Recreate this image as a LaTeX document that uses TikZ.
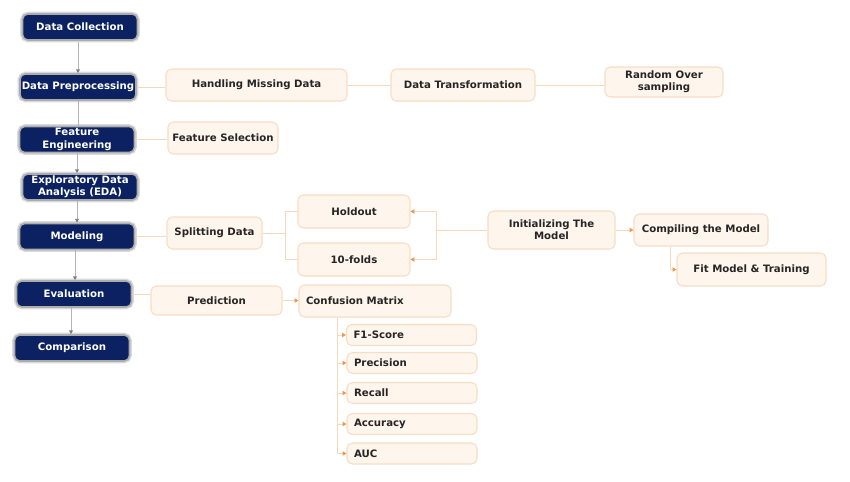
\documentclass[tikz,border=0pt]{standalone}
\usepackage{fontspec}
\setmainfont{DejaVu Sans}
\usetikzlibrary{arrows.meta,calc}
\definecolor{navy}{HTML}{0B2161}
\definecolor{ofill}{HTML}{FEF5EC}
\definecolor{odraw}{HTML}{F7DDC3}
\definecolor{oline}{HTML}{F7D8BA}
\definecolor{otip}{HTML}{EE9550}
\definecolor{gline}{HTML}{B4B4B4}
\begin{document}
\begin{tikzpicture}[x=0.02cm,y=-0.02cm,
  txt/.style={font=\fontsize{5.8}{7}\selectfont\bfseries, align=center},
  mainbox/.style={txt, text=white, fill=navy, rounded corners=3pt,
    preaction={draw=gray!30, line width=2.6pt},
    draw=gray!65, line width=0.9pt,
    minimum width=2.3cm, minimum height=0.52cm, inner sep=1pt},
  obox/.style={txt, text=black!85, fill=ofill, draw=odraw, line width=0.6pt,
    rounded corners=3pt, inner sep=1pt},
  mbox/.style={obox, minimum width=2.6cm, minimum height=0.42cm, text width=2.32cm, align=left, inner xsep=0.14cm},
  gconn/.style={draw=gline, line width=0.5pt},
  garr/.style={gconn, -{Triangle[length=2.2pt,width=2.2pt,color=gray]}},
  oconn/.style={draw=oline, line width=0.55pt},
  oarr/.style={oconn, -{Triangle[length=2.2pt,width=2.4pt,color=otip]}}
]
\useasboundingbox (0,0) rectangle (850,481);
% main column
\node[mainbox] (dc)  at (80,27)  {Data Collection};
\node[mainbox] (dp)  at (78,87)  {Data Preprocessing};
\node[mainbox] (fe)  at (77,139.5) {Feature\\Engineering};
\node[mainbox] (eda) at (80,187) {Exploratory Data\\Analysis (EDA)};
\node[mainbox] (mod) at (77,236.5) {Modeling};
\node[mainbox] (ev)  at (74,294) {Evaluation};
\node[mainbox] (cmp) at (72,348) {Comparison};

\draw[garr]  (78,42) coordinate (a1) -- (a1 |- dp.north);
\draw[gconn] (dp.south) -- (dp.south |- fe.north);
\draw[garr]  (fe.south) -- (fe.south |- eda.north);
\draw[garr]  ([xshift=-0.06cm]eda.south) coordinate (a2) -- (a2 |- mod.north);
\draw[garr]  ([xshift=-0.04cm]mod.south) coordinate (a3) -- (a3 |- ev.north);
\draw[garr]  ([xshift=-0.06cm]ev.south) coordinate (a4) -- (a4 |- cmp.north);

% orange boxes
\node[obox, minimum width=3.62cm, minimum height=0.64cm] (hmd) at (256.5,85) {Handling Missing Data};
\node[obox, minimum width=2.88cm, minimum height=0.64cm] (dt)  at (463,85) {Data Transformation};
\node[obox, minimum width=2.36cm, minimum height=0.60cm] (ros) at (664,82) {Random Over\\sampling};
\node[obox, minimum width=2.2cm,  minimum height=0.64cm] (fs)  at (223,138) {Feature Selection};
\node[obox, minimum width=1.9cm,  minimum height=0.64cm] (sd)  at (214.5,233) {Splitting Data};
\node[obox, minimum width=2.24cm, minimum height=0.66cm] (ho)  at (354,211.5) {Holdout};
\node[obox, minimum width=2.24cm, minimum height=0.66cm] (tf)  at (354,259.5) {10-folds};
\node[obox, minimum width=2.54cm, minimum height=0.76cm] (init) at (551.5,230) {Initializing The\\Model};
\node[obox, minimum width=2.68cm, minimum height=0.64cm] (comp) at (701,230) {Compiling the Model};
\node[obox, minimum width=2.98cm, minimum height=0.66cm] (fit)  at (751.5,269.5) {Fit Model \& Training};
\node[obox, minimum width=2.62cm, minimum height=0.58cm] (pred) at (216.5,300.5) {Prediction};
\node[obox, minimum width=3.04cm, minimum height=0.64cm, text width=2.76cm, align=left, inner xsep=0.14cm] (cm) at (375,301) {Confusion Matrix};
\node[mbox] (f1)  at (411.5,335) {F1-Score};
\node[mbox] (pr)  at (412,363)   {Precision};
\node[mbox] (rc)  at (412,393)   {Recall};
\node[mbox] (acc) at (412,424)   {Accuracy};
\node[mbox] (auc) at (412,453.5) {AUC};

% orange connectors
\draw[oconn] (dp.east) -- (dp.east -| hmd.west);
\draw[oconn] (hmd.east) -- (dt.west);
\draw[oconn] (dt.east) -- (dt.east -| ros.west);
\draw[oconn] (fe.east) -- (fe.east -| fs.west);
\draw[oconn] (mod.east) -- (mod.east -| sd.west);
\draw[oconn] (sd.east) -- ++(23,0) coordinate (s1) |- (ho.west);
\draw[oconn] (s1) |- (tf.west);
\draw[oarr] (init.west) -- ++(-51,0) coordinate (i1) |- (ho.east);
\draw[oarr] (i1) |- (tf.east);
\draw[oarr] (init.east) -- (init.east -| comp.west);
\draw[oarr] ([xshift=-0.62cm]comp.south) |- (fit.west);
\draw[oconn] (ev.east) -- (ev.east -| pred.west);
\draw[oarr] (pred.east) -- (pred.east -| cm.west);
\coordinate (c1) at ([xshift=0.78cm]cm.south west);
\foreach \m in {f1,pr,rc,acc,auc} {
  \draw[oarr] (c1) |- (\m.west);
}
\end{tikzpicture}
\end{document}
